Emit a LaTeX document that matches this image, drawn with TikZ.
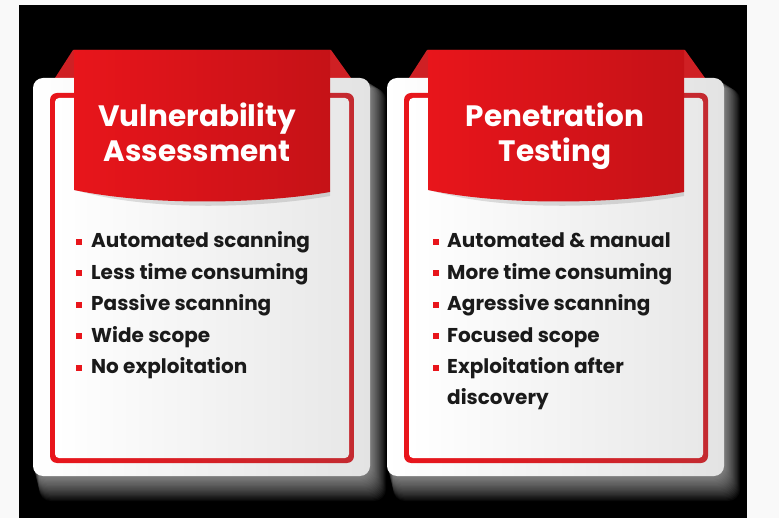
\documentclass[tikz,border=0pt]{standalone}
\usepackage{fontspec}
\setmainfont{Poppins}
\usetikzlibrary{positioning}
\definecolor{vared}{HTML}{E8151B}
\definecolor{vareddark}{HTML}{C42A30}
\definecolor{flapred}{HTML}{CF2024}
\definecolor{inktext}{HTML}{1A1A1A}
\tikzset{
  header/.style={text=white, align=center, inner sep=0,
    font=\bfseries\fontsize{29.5}{35}\selectfont},
  item/.style={anchor=base west, text=inktext, align=left, inner sep=0,
    font=\bfseries\fontsize{20}{31.4}\selectfont},
  bulletsq/.style={fill=vared, minimum size=6pt, inner sep=0},
}
\begin{document}
\begin{tikzpicture}[x=1pt, y=-1pt]
  \def\Yt{50};
  \def\Yc{78};
  \def\Yb{476};
  \def\Yone{248};
  \def\Ystep{31.4};
  % page and black backdrop
  \fill[gray!5] (0,0) rectangle (779,518);
  \fill[black] (19,5) rectangle (747,518);
  \useasboundingbox (0,0) rectangle (779,518);

  % the two cards
  \foreach \cx in {0,354} {
    % soft glow
    \foreach \k in {1,...,20}
      \fill[white, opacity=0.035, rounded corners=12]
        (\cx+33+\k*0.3, \Yc+\k*0.5) rectangle (\cx+370+\k*0.8, \Yb+\k*1.25);
    % flap
    \fill[flapred] (\cx+55, \Yc) -- (\cx+73, \Yt) -- (\cx+331, \Yt) -- (\cx+351, \Yc) -- cycle;
    % card
    \shade[left color=white, right color=gray!22, rounded corners=10]
      (\cx+33, \Yc) rectangle (\cx+370, \Yb);
    % red frame
    \shade[left color=vared, right color=vareddark, rounded corners=7]
      (\cx+50, 93) rectangle (\cx+354, 463);
    \shade[left color=white, right color=gray!18, rounded corners=4]
      (\cx+55, 98) rectangle (\cx+349, 458);
    % banner
    \fill[black, opacity=0.12] (\cx+75, 190) .. controls (\cx+150, 212) and (\cx+260, 208) .. (\cx+330, 196)
      -- (\cx+330, 190) -- cycle;
    \shade[left color=vared, right color=vared!85!black]
      (\cx+74, \Yt) -- (\cx+330, \Yt) -- (\cx+330, 192)
      .. controls (\cx+260, 204) and (\cx+150, 206) .. (\cx+74, 190) -- cycle;
  }

  % headers
  \node[header, anchor=base] (vaTitle) at (197, 162) {Vulnerability\\Assessment};
  \node[header, anchor=base] (ptTitle) at (555, 162) {Penetration\\Testing};

  % left list
  \foreach \txt [count=\i] in {Automated scanning, Less time consuming,
      Passive scanning, Wide scope, No exploitation} {
    \node[item] (va\i) at (91, \Yone+\Ystep*\i-\Ystep) {\txt};
    \node[bulletsq] (vab\i) at (79, \Yone+\Ystep*\i-\Ystep-6) {};
  }
  % right list (last item runs over two lines)
  \foreach \txt/\n [count=\i] in {Automated \& manual/1, More time consuming/2,
      Agressive scanning/3, Focused scope/4, {Exploitation after\\discovery}/6} {
    \node[item] (pt\i) at (447, \Yone+\Ystep*\n-\Ystep) {\txt};
    \node[bulletsq] (ptb\i) at (435.5, \Yone+\Ystep*\i-\Ystep-6) {};
  }
\end{tikzpicture}
\end{document}
